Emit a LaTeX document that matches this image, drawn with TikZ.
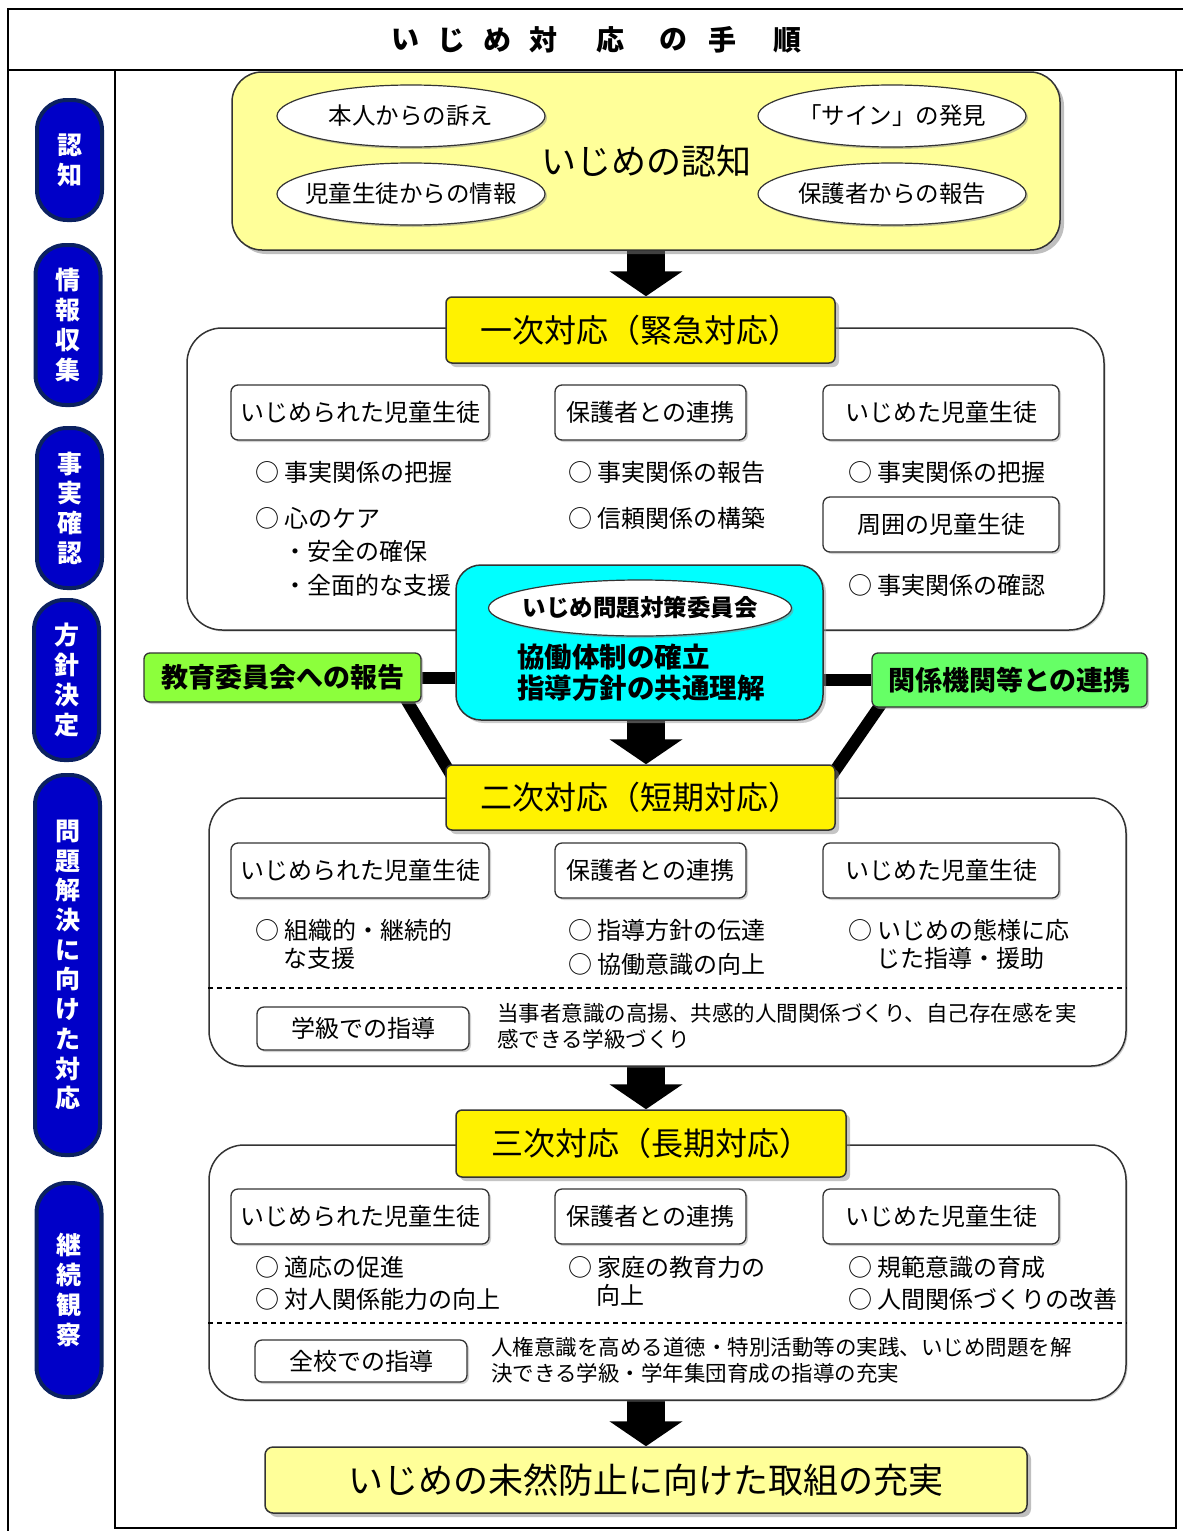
\documentclass[tikz,border=0pt]{standalone}
\usepackage{fontspec}
\setmainfont{Noto Sans CJK JP}
\usetikzlibrary{shapes.geometric,arrows.meta,shadows,backgrounds}

\definecolor{paleyellow}{HTML}{FFFF99}
\definecolor{pillblue}{HTML}{0000C8}
\definecolor{pillnavy}{HTML}{0B2160}
\definecolor{cmtecyan}{HTML}{00FFFF}
\definecolor{reportgreen}{HTML}{8CFF3C}
\definecolor{agencygreen}{HTML}{66FF66}

\begin{document}
\begin{tikzpicture}[x=1pt,y=-1pt,
	heading/.style={inner sep=0pt,font=\fontsize{28}{32}\selectfont\bfseries},
	pill/.style={draw=pillnavy,line width=4pt,fill=pillblue,rounded corners=30pt,minimum width=65pt,inner sep=0pt,text=white,align=center,font=\fontsize{25}{29.7}\selectfont\bfseries},
	recogbox/.style={draw=black!80,line width=1.5pt,fill=paleyellow,rounded corners=30pt,inner sep=0pt,font=\fontsize{35}{40}\selectfont,drop shadow={shadow xshift=4pt,shadow yshift=-4pt,fill=black!50}},
	oval/.style={ellipse,draw=black!80,line width=1.2pt,fill=white,minimum width=268pt,minimum height=62pt,inner xsep=-12pt,inner ysep=0pt,font=\fontsize{23.5}{28}\selectfont,drop shadow={shadow xshift=2pt,shadow yshift=-2pt,fill=black!45}},
	phase/.style={draw=black!80,line width=1.5pt,fill=yellow,rounded corners=6pt,inner sep=0pt,font=\fontsize{32}{38}\selectfont,drop shadow={shadow xshift=4pt,shadow yshift=-4pt,fill=black!45}},
	section/.style={draw=black!80,line width=1.5pt,fill=white,rounded corners=35pt,inner sep=0pt,drop shadow={shadow xshift=1.5pt,shadow yshift=-1.5pt,fill=black!40}},
	party/.style={draw=black!80,line width=1.3pt,fill=white,rounded corners=7pt,minimum height=55pt,inner sep=0pt,font=\fontsize{24}{28}\selectfont,drop shadow={shadow xshift=2pt,shadow yshift=-2pt,fill=black!35}},
	item/.style={anchor=west,inner sep=0pt,font=\fontsize{24}{28}\selectfont},
	note/.style={anchor=west,inner sep=0pt,align=left,font=\fontsize{21.5}{26}\selectfont},
	report/.style={draw=black!80,line width=1.3pt,rounded corners=6pt,inner sep=0pt,font=\fontsize{27}{32}\selectfont\bfseries,drop shadow={shadow xshift=2pt,shadow yshift=-2pt,fill=black!40}},
	divider/.style={line width=1.3pt,dashed,dash pattern=on 5pt off 4pt},
	link/.style={line width=12pt},
	flow/.style={line width=38pt,-{Triangle[width=72pt,length=25pt]}},
]
	\useasboundingbox (0,0) rectangle (1183,1531);
	
	% frame
	\draw[line width=1.5pt] (1183,9) -- (8,9) -- (8,1531);
	\draw[line width=1.5pt] (8,70) -- (1183,70);
	\draw[line width=1.5pt] (115,70) rectangle (1176,1528);
	\coordinate (spine) at (646,0);
	
	% title
	\foreach \ch/\px in {い/405,じ/451,め/497,対/543,応/610,の/673,手/722,順/787}
		\node[heading] (title-\px) at (\px,40) {\ch};
	
	% stages
	\node[pill,minimum height=120pt] (stage1) at (69.5,160) {認\\知};
	\node[pill,minimum height=160pt] (stage2) at (68,325) {情\\報\\収\\集};
	\node[pill,minimum height=160pt] (stage3) at (69.5,508) {事\\実\\確\\認};
	\node[pill,minimum height=160pt] (stage4) at (66.5,680) {方\\針\\決\\定};
	\node[pill,minimum height=380pt] (stage5) at (67.5,965) {問\\題\\解\\決\\に\\向\\け\\た\\対\\応};
	\node[pill,minimum height=214pt] (stage6) at (69,1290) {継\\続\\観\\察};
	
	% recognition
	\node[recogbox,minimum width=828pt,minimum height=178pt] (recog) at (646,161) {いじめの認知};
	\node[oval] (sign1) at (411,116) {本人からの訴え};
	\node[oval] (sign2) at (411,194) {児童生徒からの情報};
	\node[oval] (sign3) at (892,116) {「サイン」の発見};
	\node[oval] (sign4) at (892,194) {保護者からの報告};
	
	% first response
	\node[section,minimum width=917pt,minimum height=302pt] (sec1) at (645.5,479) {};
	\node[phase,minimum width=389pt,minimum height=66pt] (first) at (640.5,330) {一次対応（緊急対応）};
	\node[party,minimum width=258pt] (victim1) at (360,412.5) {いじめられた児童生徒};
	\node[party,minimum width=191pt] (parent1) at (650.5,412.5) {保護者との連携};
	\node[party,minimum width=236pt] (bully1) at (941,412.5) {いじめた児童生徒};
	\node[item] (v1a) at (255,472) {○ 事実関係の把握};
	\node[item] (v1b) at (255,518) {○ 心のケア};
	\node[item] (v1c) at (283,551) {・安全の確保};
	\node[item] (v1d) at (283,585) {・全面的な支援};
	\node[item] (p1a) at (568,472) {○ 事実関係の報告};
	\node[item] (p1b) at (568,518) {○ 信頼関係の構築};
	\node[item] (b1a) at (848,472) {○ 事実関係の把握};
	\node[party,minimum width=236pt] (peers) at (941,524.5) {周囲の児童生徒};
	\node[item] (b1b) at (848,585) {○ 事実関係の確認};
	
	% committee
	\node[draw=black!80,line width=1.5pt,fill=cmtecyan,rounded corners=25pt,minimum width=367pt,minimum height=155pt,drop shadow={shadow xshift=3pt,shadow yshift=-3pt,fill=black!40}] (cmte) at (639.5,642.5) {};
	\node[oval,minimum width=303pt,minimum height=56pt,font=\fontsize{23.5}{28}\selectfont\bfseries] (cmtename) at (640,608) {いじめ問題対策委員会};
	\node[anchor=west,inner sep=0pt,align=left,font=\fontsize{27.5}{31}\selectfont\bfseries] (cmtetask) at (517,672.5) {協働体制の確立\\指導方針の共通理解};
	
	\node[report,fill=reportgreen,minimum width=277pt,minimum height=49pt] (board) at (282.5,677.5) {教育委員会への報告};
	\node[report,fill=agencygreen,minimum width=275pt,minimum height=54pt] (agency) at (1009.5,680) {関係機関等との連携};
	
	% second response
	\node[section,minimum width=917pt,minimum height=268pt] (sec2) at (667.5,932) {};
	\node[phase,minimum width=389pt,minimum height=65pt] (second) at (640.5,797.5) {二次対応（短期対応）};
	\node[party,minimum width=258pt] (victim2) at (360,870.5) {いじめられた児童生徒};
	\node[party,minimum width=191pt] (parent2) at (650.5,870.5) {保護者との連携};
	\node[party,minimum width=236pt] (bully2) at (941,870.5) {いじめた児童生徒};
	\node[item] (v2a) at (255,930) {○ 組織的・継続的};
	\node[item] (v2b) at (283,958) {な支援};
	\node[item] (p2a) at (568,930) {○ 指導方針の伝達};
	\node[item] (p2b) at (568,964) {○ 協働意識の向上};
	\node[item] (b2a) at (848,930) {○ いじめの態様に応};
	\node[item] (b2b) at (876,958) {じた指導・援助};
	\draw[divider] (sec2.west |- 0,988) -- (sec2.east |- 0,988);
	\node[party,minimum width=212pt,minimum height=43pt] (classwork) at (363,1028.5) {学級での指導};
	\node[note] (classnote) at (497,1026) {当事者意識の高揚、共感的人間関係づくり、自己存在感を実\\感できる学級づくり};
	
	% third response
	\node[section,minimum width=917pt,minimum height=255pt] (sec3) at (667.5,1272.5) {};
	\node[phase,minimum width=390pt,minimum height=67pt] (third) at (651,1143.5) {三次対応（長期対応）};
	\node[party,minimum width=258pt] (victim3) at (360,1216.5) {いじめられた児童生徒};
	\node[party,minimum width=191pt] (parent3) at (650.5,1216.5) {保護者との連携};
	\node[party,minimum width=236pt] (bully3) at (941,1216.5) {いじめた児童生徒};
	\node[item] (v3a) at (255,1267) {○ 適応の促進};
	\node[item] (v3b) at (255,1299) {○ 対人関係能力の向上};
	\node[item] (p3a) at (568,1267) {○ 家庭の教育力の};
	\node[item] (p3b) at (596,1295) {向上};
	\node[item] (b3a) at (848,1267) {○ 規範意識の育成};
	\node[item] (b3b) at (848,1299) {○ 人間関係づくりの改善};
	\draw[divider] (sec3.west |- 0,1323) -- (sec3.east |- 0,1323);
	\node[party,minimum width=212pt,minimum height=42pt] (schoolwork) at (361,1361) {全校での指導};
	\node[note] (schoolnote) at (491,1360) {人権意識を高める道徳・特別活動等の実践、いじめ問題を解\\決できる学級・学年集団育成の指導の充実};
	
	% prevention
	\node[recogbox,rounded corners=8pt,minimum width=762pt,minimum height=66pt] (goal) at (646,1480) {いじめの未然防止に向けた取組の充実};
	
	\begin{scope}[on background layer]
		\draw[flow] (recog.south -| spine) -- (first.north -| spine);
		\draw[flow] (cmte.south -| spine) -- (second.north -| spine);
		\draw[flow] (sec2.south -| spine) -- (third.north -| spine);
		\draw[flow] (sec3.south -| spine) -- (goal.north -| spine);
		\draw[link] (board.east) -- (board.east -| cmte.west);
		\draw[link] (agency.west -| cmte.east) -- (agency.west);
		\draw[link] ([xshift=-16pt,yshift=4pt]board.south east) -- ([xshift=8pt,yshift=-14pt]second.north west);
		\draw[link] ([xshift=10pt,yshift=4pt]agency.south west) -- ([xshift=-6pt,yshift=-14pt]second.north east);
	\end{scope}
	
\end{tikzpicture}
\end{document}
